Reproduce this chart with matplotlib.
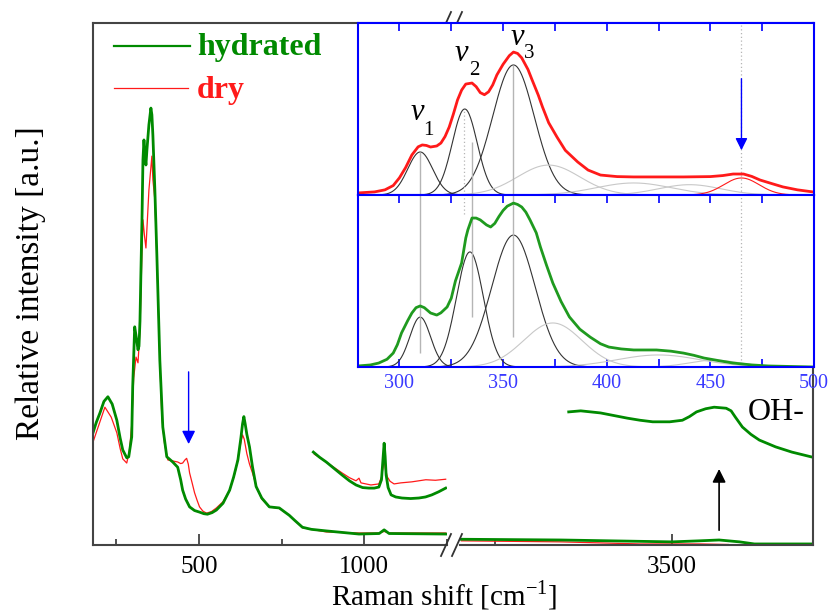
import numpy as np
import matplotlib.pyplot as plt
from matplotlib.lines import Line2D
from matplotlib.ticker import MultipleLocator, NullLocator

plt.rcParams['font.family'] = 'Liberation Serif'

# ---- main spectra, low-wavenumber segment (cm-1, relative intensity) ----
hyd_x = [180, 190, 201, 213, 225, 238, 252, 262, 270, 282, 288, 297, 300, 306, 312, 316,
         319, 322, 325, 328, 331, 334, 337, 340, 343, 349, 355, 358, 361, 367, 373, 382,
         391, 403, 421, 436, 445, 451, 460, 472, 487, 502, 515, 526, 540, 553, 573, 593,
         605, 618, 627, 632, 636, 640, 645, 653, 662, 673, 690, 713, 728, 743, 760, 773,
         790, 813, 840, 885, 984, 1045, 1060, 1075, 1246]
hyd_y = [0.215, 0.235, 0.253, 0.275, 0.284, 0.270, 0.239, 0.205, 0.182, 0.167, 0.169,
         0.207, 0.303, 0.418, 0.393, 0.374, 0.381, 0.429, 0.527, 0.621, 0.738, 0.776,
         0.747, 0.728, 0.757, 0.805, 0.837, 0.824, 0.785, 0.680, 0.556, 0.354, 0.226,
         0.169, 0.159, 0.149, 0.125, 0.105, 0.088, 0.073, 0.066, 0.063, 0.060, 0.059,
         0.062, 0.067, 0.080, 0.105, 0.130, 0.163, 0.205, 0.232, 0.246, 0.232, 0.212,
         0.188, 0.150, 0.112, 0.090, 0.073, 0.072, 0.071, 0.063, 0.057, 0.047, 0.034,
         0.030, 0.027, 0.021, 0.022, 0.029, 0.022, 0.021]

dry_x = [180, 195, 216, 235, 252, 262, 270, 282, 290, 297, 303, 310, 316, 322, 328, 331,
         336, 340, 349, 358, 361, 367, 373, 382, 388, 396, 406, 421, 436, 445, 451, 458,
         463, 468, 472, 480, 487, 495, 502, 512, 523, 538, 553, 573, 593, 610, 622, 628,
         632, 637, 645, 653, 662, 675, 690, 713, 743, 773, 813, 885, 984, 1045, 1060,
         1075, 1246]
dry_y = [0.197, 0.225, 0.264, 0.245, 0.215, 0.185, 0.165, 0.157, 0.180, 0.230, 0.320,
         0.360, 0.349, 0.412, 0.560, 0.623, 0.590, 0.569, 0.680, 0.745, 0.700, 0.661,
         0.550, 0.354, 0.245, 0.195, 0.163, 0.161, 0.159, 0.156, 0.157, 0.163, 0.166,
         0.155, 0.138, 0.118, 0.100, 0.085, 0.073, 0.065, 0.061, 0.064, 0.071, 0.083,
         0.105, 0.140, 0.180, 0.200, 0.211, 0.203, 0.175, 0.155, 0.138, 0.110, 0.088,
         0.073, 0.070, 0.057, 0.033, 0.025, 0.023, 0.023, 0.026, 0.023, 0.023]

# magnified 850-1250 part (shifted up)
hyd_mag_x = [846, 865, 885, 910, 933, 955, 975, 995, 1014, 1030, 1044, 1052, 1056, 1060,
             1063, 1066, 1072, 1081, 1095, 1114, 1140, 1165, 1185, 1204, 1225, 1246]
hyd_mag_y = [0.178, 0.168, 0.159, 0.146, 0.134, 0.123, 0.115, 0.110, 0.109, 0.109, 0.111,
             0.125, 0.160, 0.195, 0.170, 0.134, 0.110, 0.096, 0.092, 0.090, 0.089, 0.090,
             0.092, 0.096, 0.102, 0.109]
dry_mag_x = [849, 885, 910, 933, 955, 975, 984, 990, 1005, 1020, 1044, 1052, 1057, 1060,
             1064, 1070, 1078, 1090, 1110, 1144, 1165, 1186, 1215, 1246]
dry_mag_y = [0.174, 0.159, 0.148, 0.138, 0.129, 0.123, 0.128, 0.119, 0.117, 0.115, 0.117,
             0.130, 0.150, 0.163, 0.145, 0.130, 0.122, 0.117, 0.119, 0.121, 0.123, 0.125,
             0.124, 0.126]

# ---- high-wavenumber segment ----
hyd_oh_x = [3202, 3343, 3500, 3539, 3567, 3596, 3617, 3698]
hyd_oh_y = [0.011, 0.0096, 0.006, 0.008, 0.0096, 0.006, 0.002, 0.002]
dry_oh_x = [3202, 3343, 3455, 3540, 3580]
dry_oh_y = [0.008, 0.006, 0.002, 0.002, 0.001]
hyd_ohmag_x = [3354, 3371, 3385, 3399, 3418, 3437, 3455, 3473, 3497, 3515, 3525, 3535,
               3548, 3560, 3577, 3584, 3590, 3600, 3612, 3624, 3647, 3670, 3697]
hyd_ohmag_y = [0.255, 0.257, 0.255, 0.253, 0.248, 0.243, 0.239, 0.236, 0.236, 0.239,
               0.246, 0.255, 0.261, 0.264, 0.262, 0.257, 0.245, 0.226, 0.212, 0.201,
               0.188, 0.178, 0.169]

# ---- inset: 280-500 cm-1 region ----
dry_in_x = [280, 288, 293, 297, 300, 303, 306, 309, 311, 313, 315, 318, 320, 322, 324,
            326, 328, 330, 332, 335, 337, 339, 341, 343, 345, 347, 350, 353, 355, 357,
            359, 362, 364, 367, 369, 372, 376, 380, 386, 391, 397, 405, 413, 437, 450,
            456, 461, 466, 470, 474, 480, 485, 492, 500]
dry_in_y = [0.012, 0.018, 0.030, 0.055, 0.100, 0.160, 0.233, 0.280, 0.291, 0.288, 0.279,
            0.285, 0.302, 0.340, 0.395, 0.470, 0.552, 0.610, 0.645, 0.651, 0.630, 0.595,
            0.583, 0.600, 0.640, 0.698, 0.760, 0.810, 0.831, 0.823, 0.797, 0.730, 0.669,
            0.580, 0.512, 0.420, 0.337, 0.260, 0.192, 0.145, 0.116, 0.107, 0.105, 0.105,
            0.107, 0.113, 0.122, 0.122, 0.108, 0.087, 0.065, 0.047, 0.030, 0.017]
hyd_in_x = [280, 286, 290, 294, 297, 299, 301, 304, 306, 308, 310, 312, 315, 318, 320,
            323, 325, 327, 330, 332, 333, 335, 337, 339, 342, 344, 346, 348, 350, 352,
            355, 357, 359, 361, 363, 366, 368, 371, 374, 378, 382, 387, 392, 397, 401,
            407, 413, 424, 431, 437, 442, 447, 454, 461, 470, 478, 500]
hyd_in_y = [0.006, 0.012, 0.023, 0.045, 0.081, 0.130, 0.198, 0.270, 0.314, 0.345, 0.355,
            0.345, 0.314, 0.302, 0.315, 0.349, 0.400, 0.500, 0.605, 0.750, 0.797, 0.866,
            0.866, 0.855, 0.826, 0.814, 0.835, 0.875, 0.910, 0.935, 0.953, 0.945, 0.930,
            0.900, 0.855, 0.780, 0.698, 0.590, 0.488, 0.380, 0.291, 0.220, 0.174, 0.135,
            0.116, 0.105, 0.099, 0.099, 0.092, 0.081, 0.068, 0.052, 0.037, 0.023, 0.012,
            0.006, 0.0]

# fitted gaussian components: centre, height, sigma
dry_fit_c = [310, 331.5, 355, 372, 413, 440]
dry_fit_h = [0.25, 0.50, 0.756, 0.174, 0.07, 0.06]
dry_fit_s = [6.0, 6.0, 10.0, 15, 18, 15]
dry_fit_dark = [True, True, True, False, False, False]
dry_extra = (465, 0.099, 8.5)
hyd_fit_c = [310, 334, 355, 374, 425, 452]
hyd_fit_h = [0.29, 0.669, 0.767, 0.256, 0.07, 0.04]
hyd_fit_s = [5.0, 6.5, 10.5, 14, 20, 12]
hyd_fit_dark = [True, True, True, False, False, False]

GREEN = '#008a00'
RED = '#ff1a1a'
BLUE = '#0000ff'

W, H = 831, 614
fig = plt.figure(figsize=(W / 100, H / 100), dpi=100)


def px_box(x0, y0, x1, y1):
    return [x0 / W, 1 - y1 / H, (x1 - x0) / W, (y1 - y0) / H]


ax1 = fig.add_axes(px_box(93, 23, 447, 545))
ax2 = fig.add_axes(px_box(460, 23, 813, 545))

ax1.plot(dry_x, dry_y, color=RED, lw=0.9)
ax1.plot(hyd_x, hyd_y, color=GREEN, lw=2.0)
ax1.plot(dry_mag_x, dry_mag_y, color=RED, lw=0.9)
ax1.plot(hyd_mag_x, hyd_mag_y, color=GREEN, lw=2.0)
ax2.plot(dry_oh_x, dry_oh_y, color=RED, lw=0.9)
ax2.plot(hyd_oh_x, hyd_oh_y, color=GREEN, lw=2.0)
ax2.plot(hyd_ohmag_x, hyd_ohmag_y, color=GREEN, lw=2.0)

ax1.set_xlim(180, 1250)
ax2.set_xlim(3200, 3700)
for ax in (ax1, ax2):
    ax.set_ylim(0, 1)
    ax.yaxis.set_major_locator(NullLocator())
    ax.xaxis.set_major_locator(MultipleLocator(500))
    ax.xaxis.set_minor_locator(MultipleLocator(250))
    ax.tick_params(axis='x', which='both', direction='in', labelsize=18, pad=8,
                   color='#333333', width=1.2)
    ax.tick_params(axis='x', which='major', length=8)
    ax.tick_params(axis='x', which='minor', length=4)
    for s in ax.spines.values():
        s.set_color('#444444')
        s.set_linewidth(1.5)
ax1.spines['right'].set_visible(False)
ax2.spines['left'].set_visible(False)

# arrows and labels in main panel
ax1.annotate('', xy=(469, 0.188), xytext=(469, 0.337),
             arrowprops=dict(arrowstyle='-|>', color=BLUE, lw=1.0, mutation_scale=20))
ax2.annotate('', xy=(3567, 0.151), xytext=(3567, 0.023),
             arrowprops=dict(arrowstyle='-|>', color='black', lw=1.2, mutation_scale=20))
ax2.text(3607, 0.253, 'OH-', fontsize=23, ha='left', va='center')

# legend drawn by hand
ax1.plot([0.059, 0.274], [0.956, 0.956], transform=ax1.transAxes, color=GREEN, lw=1.6)
ax1.plot([0.059, 0.268], [0.875, 0.875], transform=ax1.transAxes, color=RED, lw=0.9)
ax1.text(0.294, 0.954, 'hydrated', transform=ax1.transAxes, color=GREEN,
         fontsize=23, fontweight='bold', va='center')
ax1.text(0.294, 0.871, 'dry', transform=ax1.transAxes, color=RED,
         fontsize=23, fontweight='bold', va='center')

fig.text(444 / W, 1 - 595 / H, 'Raman shift [cm$^{\\mathregular{-1}}$]',
         ha='center', va='center', fontsize=21)
fig.text(31 / W, 1 - 283 / H, 'Relative intensity [a.u.]', rotation=90,
         ha='center', va='center', fontsize=24)

# break marks
for yb in (545, 23):
    for xo in (0, 11):
        fig.add_artist(Line2D([(441 + xo) / W, (451 + xo) / W],
                              [1 - (yb + 11) / H, 1 - (yb - 11) / H],
                              color='#333333', lw=1.3))

# ---- inset ----
axt = fig.add_axes(px_box(358, 23, 814, 195))
axb = fig.add_axes(px_box(358, 195, 814, 367))
xs = np.linspace(280, 500, 600)


def gauss(c, h, s):
    return h * np.exp(-0.5 * ((xs - c) / s) ** 2)


for c, h, s, dark in zip(dry_fit_c, dry_fit_h, dry_fit_s, dry_fit_dark):
    axt.plot(xs, gauss(c, h, s), color='#333333' if dark else '#c8c8c8', lw=0.8)
axt.plot(xs, gauss(*dry_extra), color=RED, lw=0.8)
for c, h, s, dark in zip(hyd_fit_c, hyd_fit_h, hyd_fit_s, hyd_fit_dark):
    axb.plot(xs, gauss(c, h, s), color='#333333' if dark else '#c8c8c8', lw=0.8)

# guide lines at band positions
axt.vlines([310, 335, 355], 0, [0.25, 0.31, 0.756], color='#b5b5b5', lw=1.0)
axb.vlines([310, 335, 355], [0.08, 0.29, 0.174], 1, color='#b5b5b5', lw=1.0)
axt.vlines([331], 0, 0.49, color='#b5b5b5', lw=0.9, linestyles=(0, (1, 2)))
axb.vlines([331], 0.89, 1, color='#b5b5b5', lw=0.9, linestyles=(0, (1, 2)))
axt.vlines([465], 0, 1, color='#b5b5b5', lw=0.9, linestyles=(0, (1, 2)))
axb.vlines([465], 0.04, 1, color='#b5b5b5', lw=0.9, linestyles=(0, (1, 2)))

axt.plot(dry_in_x, dry_in_y, color=RED, lw=2.0)
axb.plot(hyd_in_x, hyd_in_y, color='#1f9a1f', lw=2.0)

axt.annotate('', xy=(465, 0.244), xytext=(465, 0.692),
             arrowprops=dict(arrowstyle='-|>', color=BLUE, lw=1.0, mutation_scale=18))

for v, sub, xv, yv, xs_, ys_ in [('v', '1', 308.7, 0.48, 314, 0.375),
                                  ('v', '2', 330.0, 0.82, 336.2, 0.725),
                                  ('v', '3', 357.0, 0.915, 362.8, 0.82)]:
    axt.text(xv, yv, v, fontsize=22, fontstyle='italic', ha='center', va='center')
    axt.text(xs_, ys_, sub, fontsize=15, ha='center', va='center')

for ax in (axt, axb):
    ax.set_xlim(280, 500)
    ax.set_ylim(0, 1)
    ax.yaxis.set_major_locator(NullLocator())
    ax.xaxis.set_major_locator(MultipleLocator(50))
    ax.xaxis.set_minor_locator(MultipleLocator(25))
    for s in ax.spines.values():
        s.set_color(BLUE)
        s.set_linewidth(1.5)
    ax.set_zorder(5)
axt.tick_params(axis='x', which='both', direction='in', top=True, bottom=False,
                labelbottom=False, length=6, color=BLUE, width=1.2)
axb.tick_params(axis='x', which='both', direction='in', top=True, bottom=True,
                length=6, color=BLUE, width=1.2, labelsize=14.5, labelcolor='#3a3aff',
                pad=5)

fig.savefig('out.png', dpi=100)
